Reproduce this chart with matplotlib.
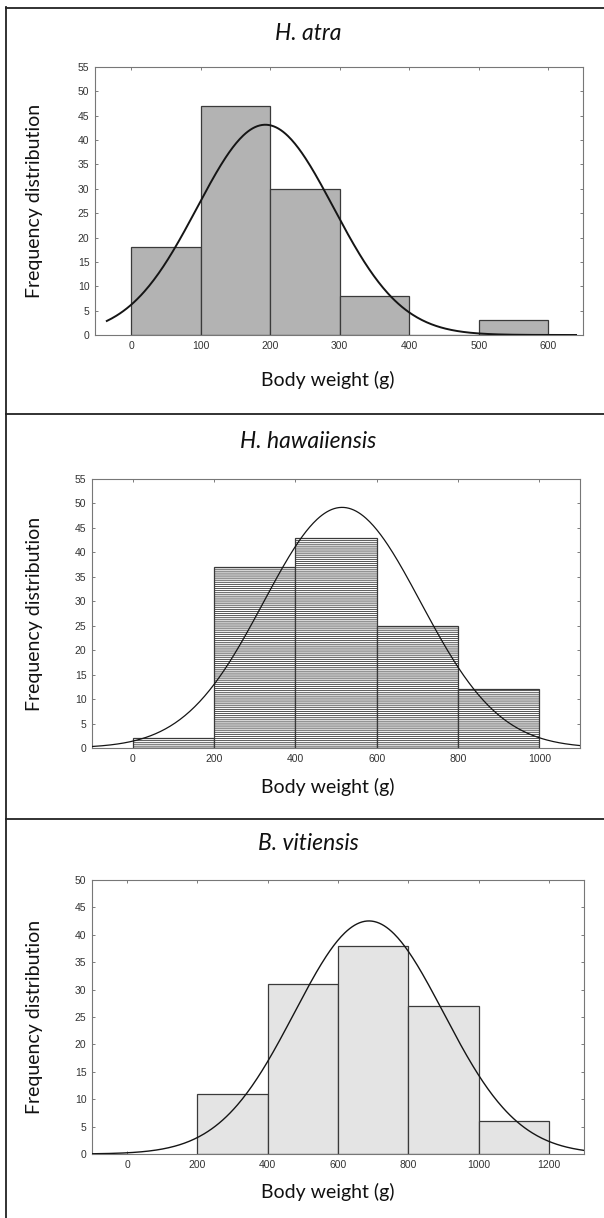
import numpy as np
import matplotlib
matplotlib.use("Agg")
import matplotlib.pyplot as plt
from matplotlib.lines import Line2D

# ---------------- data ----------------
titles = ["H. atra", "H. hawaiiensis", "B. vitiensis"]

atra_edges = [0, 100, 200, 300, 400, 500, 600]
atra_counts = [18, 47, 30, 8, 0, 3]
atra_mean, atra_sd = 193, 98
atra_curve_range = (-35, 640)

haw_edges = [0, 200, 400, 600, 800, 1000]
haw_counts = [2, 37, 43, 25, 12]
haw_mean, haw_sd = 515, 193
haw_curve_range = (-100, 1100)

vit_edges = [200, 400, 600, 800, 1000, 1200]
vit_counts = [11, 31, 38, 27, 6]
vit_mean, vit_sd = 688, 212
vit_curve_range = (-100, 1300)

x_ticks = [[0, 100, 200, 300, 400, 500, 600],
           [0, 200, 400, 600, 800, 1000],
           [0, 200, 400, 600, 800, 1000, 1200]]
y_ticks = [list(range(0, 56, 5)), list(range(0, 56, 5)), list(range(0, 51, 5))]
x_lims = [(-52, 650), (-100, 1100), (-100, 1300)]
y_lims = [(0, 55), (0, 55), (0, 50)]

xlabel = "Body weight (g)"
ylabel = "Frequency distribution"

W, H = 604, 1218
fig = plt.figure(figsize=(W / 100, H / 100), dpi=100)

def fr(l, t, r, b):
    return [l / W, 1 - b / H, (r - l) / W, (b - t) / H]

rects = [fr(95, 67, 583, 335), fr(92, 479, 580, 748), fr(92, 880, 584, 1154)]
title_y = [33, 442, 843]
xlabel_y = [380, 787, 1192]
title_x = 308
xlabel_x = 328
ylabel_x = 35

panels = [
    (atra_edges, atra_counts, atra_mean, atra_sd, atra_curve_range),
    (haw_edges, haw_counts, haw_mean, haw_sd, haw_curve_range),
    (vit_edges, vit_counts, vit_mean, vit_sd, vit_curve_range),
]
styles = [
    dict(color="#b3b3b3", edgecolor="#3a3a3a", linewidth=0.9),
    dict(color="white", edgecolor="#3a3a3a", linewidth=0.9),
    dict(color="#e4e4e4", edgecolor="#3a3a3a", linewidth=0.9),
]
curve_lw = [1.4, 0.9, 1.0]

TXT = "Lato"
matplotlib.rcParams["hatch.color"] = "#7a7a7a"
matplotlib.rcParams["hatch.linewidth"] = 0.6

for i, (edges, counts, mu, sd, crange) in enumerate(panels):
    ax = fig.add_axes(rects[i])
    edges = np.asarray(edges, float)
    widths = np.diff(edges)
    st = styles[i]
    kw = dict(width=widths, align="edge", color=st["color"],
              edgecolor=st["edgecolor"], linewidth=st["linewidth"], zorder=2)
    if i == 1:
        kw["hatch"] = "--------"
    ax.bar(edges[:-1], counts, **kw)

    # fitted normal curve (scaled to counts)
    n = sum(counts)
    bw = widths[0]
    xs = np.linspace(crange[0], crange[1], 400)
    ys = n * bw / (sd * np.sqrt(2 * np.pi)) * np.exp(-0.5 * ((xs - mu) / sd) ** 2)
    ax.plot(xs, ys, color="#151515", lw=curve_lw[i], zorder=3)

    ax.set_xlim(*x_lims[i])
    ax.set_ylim(*y_lims[i])
    ax.set_xticks(x_ticks[i])
    ax.set_yticks(y_ticks[i])
    ax.tick_params(direction="in", length=2.5, width=0.6, color="#666666",
                   labelsize=7.5, labelcolor="#333333", top=True, right=True, pad=4)
    for lab in ax.get_xticklabels() + ax.get_yticklabels():
        lab.set_fontfamily("Liberation Sans")
    for sp in ax.spines.values():
        sp.set_color("#777777")
        sp.set_linewidth(0.8)

    fig.text(title_x / W, 1 - title_y[i] / H, titles[i], ha="center", va="center",
             fontsize=16.5, style="italic", family=TXT, color="#111111")
    fig.text(xlabel_x / W, 1 - xlabel_y[i] / H, xlabel, ha="center", va="center",
             fontsize=14, family=TXT, color="#111111")
    fig.text(ylabel_x / W, rects[i][1] + rects[i][3] / 2, ylabel, rotation=90,
             ha="center", va="center", fontsize=14, family=TXT, color="#111111")

# panel borders
bc = "#222222"
fig.add_artist(Line2D([6 / W, 6 / W], [1 - 7 / H, 0], transform=fig.transFigure, color=bc, lw=1.3))
for yy in [8, 414, 819]:
    fig.add_artist(Line2D([6 / W, 1], [1 - yy / H, 1 - yy / H], transform=fig.transFigure, color=bc, lw=1.3))

fig.savefig("out.png", dpi=100)
